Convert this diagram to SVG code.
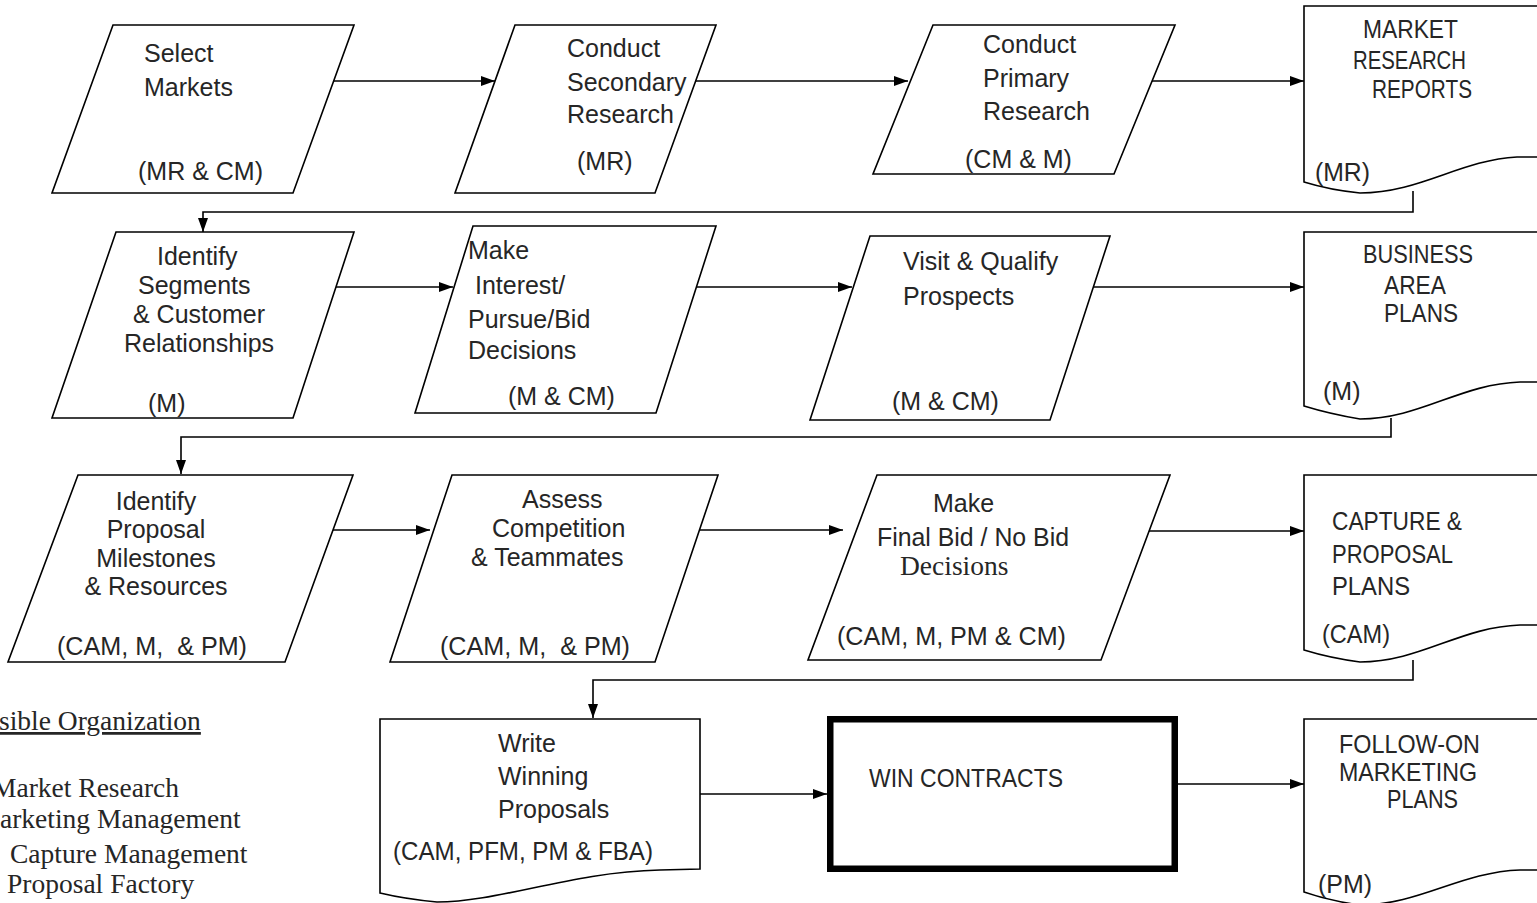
<svg xmlns="http://www.w3.org/2000/svg" width="1537" height="903" viewBox="0 0 1537 903">
<defs>
<marker id="ah" viewBox="0 0 14 10" refX="14" refY="5" markerWidth="14" markerHeight="10" markerUnits="userSpaceOnUse" orient="auto">
<path d="M0,0 L14,5 L0,10 Z" fill="#000"/>
</marker>
<style>
.shape{fill:#fff;stroke:#000;stroke-width:1.6}
.thick{fill:#fff;stroke:#000;stroke-width:6.5}
.t{font-family:"Liberation Sans",Arial,sans-serif;font-size:25px;fill:#262626;white-space:pre}
.s{font-family:"Liberation Serif","Times New Roman",serif;font-size:27.5px;fill:#262626;white-space:pre}
.c{fill:none;stroke:#000;stroke-width:1.6;marker-end:url(#ah)}
</style>
</defs>
<rect width="1537" height="903" fill="#fff"/>

<g id="connectors">
<path class="c" d="M334,81 H495"/>
<path class="c" d="M696,81 H908"/>
<path class="c" d="M1152,81 H1304"/>
<path class="c" d="M1413,191 V212 H203 V232"/>
<path class="c" d="M336,287 H453"/>
<path class="c" d="M697,287 H852"/>
<path class="c" d="M1092,287 H1304"/>
<path class="c" d="M1391,418 V437 H181 V474"/>
<path class="c" d="M333,530 H430"/>
<path class="c" d="M697,530 H843"/>
<path class="c" d="M1132,531 H1304"/>
<path class="c" d="M1413,660 V680 H593 V718"/>
<path class="c" d="M700,794 H827"/>
<path class="c" d="M1178,784 H1304"/>
</g>

<g id="select-markets">
<polygon class="shape" points="113,25 354,25 293,193 52,193"/>
<text class="t" x="144" y="62">Select</text>
<text class="t" x="144" y="96">Markets</text>
<text class="t" x="138" y="180">(MR &amp; CM)</text>
</g>

<g id="conduct-secondary">
<polygon class="shape" points="515,25 716,25 655,193 455,193"/>
<text class="t" x="567" y="57">Conduct</text>
<text class="t" x="567" y="91">Secondary</text>
<text class="t" x="567" y="123">Research</text>
<text class="t" x="577" y="170">(MR)</text>
</g>

<g id="conduct-primary">
<polygon class="shape" points="933,25 1175,25 1114,174 873,174"/>
<text class="t" x="983" y="53">Conduct</text>
<text class="t" x="983" y="87">Primary</text>
<text class="t" x="983" y="120">Research</text>
<text class="t" x="965" y="168">(CM &amp; M)</text>
</g>

<g id="market-research-reports">
<path class="shape" d="M1304,6 H1560 V157 H1517 C1460,160 1420,193 1360,193 Q1330,190 1304,182 Z"/>
<text class="t" x="1363" y="38" textLength="95" lengthAdjust="spacingAndGlyphs">MARKET</text>
<text class="t" x="1353" y="69" textLength="113" lengthAdjust="spacingAndGlyphs">RESEARCH</text>
<text class="t" x="1372" y="98" textLength="100" lengthAdjust="spacingAndGlyphs">REPORTS</text>
<text class="t" x="1315" y="181" textLength="55" lengthAdjust="spacingAndGlyphs">(MR)</text>
</g>

<g id="identify-segments">
<polygon class="shape" points="116,232 354,232 293,418 52,418"/>
<text class="t" x="157" y="265">Identify</text>
<text class="t" x="138" y="294">Segments</text>
<text class="t" x="133" y="323">&amp; Customer</text>
<text class="t" x="124" y="352">Relationships</text>
<text class="t" x="148" y="412">(M)</text>
</g>

<g id="make-interest">
<polygon class="shape" points="473,226 716,226 656,413 415,413"/>
<text class="t" x="468" y="259">Make</text>
<text class="t" x="468" y="294"> Interest/</text>
<text class="t" x="468" y="328">Pursue/Bid</text>
<text class="t" x="468" y="359">Decisions</text>
<text class="t" x="508" y="405">(M &amp; CM)</text>
</g>

<g id="visit-qualify">
<polygon class="shape" points="870,236 1110,236 1050,420 810,420"/>
<text class="t" x="903" y="270">Visit &amp; Qualify</text>
<text class="t" x="903" y="305">Prospects</text>
<text class="t" x="892" y="410">(M &amp; CM)</text>
</g>

<g id="business-area-plans">
<path class="shape" d="M1304,232 H1560 V382 H1520 C1460,384 1420,419 1360,419 Q1330,414 1304,406 Z"/>
<text class="t" x="1363" y="263" textLength="110" lengthAdjust="spacingAndGlyphs">BUSINESS</text>
<text class="t" x="1384" y="294" textLength="62" lengthAdjust="spacingAndGlyphs">AREA</text>
<text class="t" x="1384" y="322" textLength="74" lengthAdjust="spacingAndGlyphs">PLANS</text>
<text class="t" x="1323" y="400">(M)</text>
</g>

<g id="identify-proposal">
<polygon class="shape" points="78,475 353,475 285,662 8,662"/>
<text class="t" x="156" y="510" text-anchor="middle">Identify</text>
<text class="t" x="156" y="538" text-anchor="middle">Proposal</text>
<text class="t" x="156" y="567" text-anchor="middle">Milestones</text>
<text class="t" x="156" y="595" text-anchor="middle">&amp; Resources</text>
<text class="t" x="57" y="655" textLength="190" lengthAdjust="spacingAndGlyphs">(CAM, M,  &amp; PM)</text>
</g>

<g id="assess-competition">
<polygon class="shape" points="452,475 718,475 655,662 390,662"/>
<text class="t" x="522" y="508">Assess</text>
<text class="t" x="492" y="537">Competition</text>
<text class="t" x="471" y="566">&amp; Teammates</text>
<text class="t" x="440" y="655" textLength="190" lengthAdjust="spacingAndGlyphs">(CAM, M,  &amp; PM)</text>
</g>

<g id="make-final-bid">
<polygon class="shape" points="877,475 1170,475 1101,660 808,660"/>
<text class="t" x="933" y="512">Make</text>
<text class="t" x="877" y="546" textLength="192" lengthAdjust="spacingAndGlyphs">Final Bid / No Bid</text>
<text class="s" x="900" y="575">Decisions</text>
<text class="t" x="837" y="645" textLength="229" lengthAdjust="spacingAndGlyphs">(CAM, M, PM &amp; CM)</text>
</g>

<g id="capture-proposal-plans">
<path class="shape" d="M1304,475 H1560 V625 H1520 C1460,627 1420,662 1360,662 Q1330,658 1304,650 Z"/>
<text class="t" x="1332" y="530" textLength="130" lengthAdjust="spacingAndGlyphs">CAPTURE &amp;</text>
<text class="t" x="1332" y="563" textLength="121" lengthAdjust="spacingAndGlyphs">PROPOSAL</text>
<text class="t" x="1332" y="595" textLength="78" lengthAdjust="spacingAndGlyphs">PLANS</text>
<text class="t" x="1322" y="643" textLength="68" lengthAdjust="spacingAndGlyphs">(CAM)</text>
</g>

<g id="write-proposals">
<path class="shape" d="M380,719 H700 V869 L660,870 C570,872 500,902 437,902 Q405,899 380,893 Z"/>
<text class="t" x="498" y="752">Write</text>
<text class="t" x="498" y="785">Winning</text>
<text class="t" x="498" y="818">Proposals</text>
<text class="t" x="393" y="860" textLength="260" lengthAdjust="spacingAndGlyphs">(CAM, PFM, PM &amp; FBA)</text>
</g>

<g id="win-contracts">
<rect class="thick" x="830.25" y="719.25" width="344.5" height="149.5"/>
<text class="t" x="869" y="787" textLength="194" lengthAdjust="spacingAndGlyphs">WIN CONTRACTS</text>
</g>

<g id="follow-on-plans">
<path class="shape" d="M1304,719 H1560 V870 H1520 C1460,872 1420,905 1360,905 Q1330,901 1304,892 Z"/>
<text class="t" x="1339" y="753" textLength="141" lengthAdjust="spacingAndGlyphs">FOLLOW-ON</text>
<text class="t" x="1339" y="781" textLength="138" lengthAdjust="spacingAndGlyphs">MARKETING</text>
<text class="t" x="1387" y="808" textLength="71" lengthAdjust="spacingAndGlyphs">PLANS</text>
<text class="t" x="1318" y="893" textLength="54" lengthAdjust="spacingAndGlyphs">(PM)</text>
</g>

<g id="legend">
<text class="s" x="-1" y="730" text-decoration="underline">sible Organization</text>
<text class="s" x="-8" y="797">Market Research</text>
<text class="s" x="0" y="828">arketing Management</text>
<text class="s" x="10" y="863">Capture Management</text>
<text class="s" x="7" y="893">Proposal Factory</text>
</g>
</svg>
